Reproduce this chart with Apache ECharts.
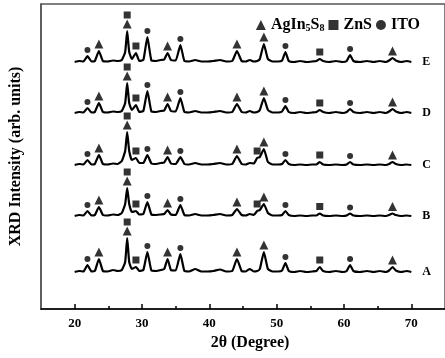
<!DOCTYPE html>
<html>
<head>
<meta charset="utf-8">
<script src="https://cdn.jsdelivr.net/npm/echarts@6/dist/echarts.min.js"></script>
<style>
  html, body { margin: 0; padding: 0; background: #fff; }
  #main { width: 445px; height: 358px; }
</style>
</head>
<body>
<div id="main"></div>
<script>
// 2theta grid shared by all patterns
const twoTheta = [
  20, 20.7, 21.3, 21.9, 22.5, 23.0, 23.6, 24.2, 24.9, 25.7, 26.4, 27.0, 27.5, 27.8, 28.1,
  28.5, 29.1, 29.6, 30.2, 30.8, 31.4, 32.1, 32.8, 33.3, 33.8, 34.3, 35.0, 35.7, 36.3, 37.0,
  37.9, 38.8, 39.7, 40.6, 41.6, 42.5, 43.4, 44.1, 44.8, 45.4, 46.0, 46.6, 47.1, 47.5, 48.1,
  48.7, 49.4, 50.2, 50.8, 51.3, 51.8, 52.6, 53.5, 54.4, 55.3, 55.9, 56.4, 56.9, 57.8, 58.8,
  59.8, 60.4, 60.9, 61.4, 62.4, 63.4, 64.4, 65.3, 66.2, 66.7, 67.2, 67.7, 68.5, 69.3, 70
];

const intensityA = [
  0, 1, 0.5, 7, 0.5, 1, 13, 1, 0.5, 2, 1, 2, 10, 34, 10,
  3, 5, 1, 2, 20, 1.5, 1, 2, 3, 13, 2, 1.5, 18, 1, 0.5,
  3, 0.5, 0.5, 1, 2.5, 0.5, 1, 13, 1, 0.5, 3, 0.5, 1, 3, 20,
  3, 0.5, 0.5, 1.5, 9, 1, 0, 1, 0, 0.5, 1, 5, 1, 0, 1,
  0, 1, 7, 1, 0, 1, 0, 1, 0, 1.5, 5, 1.5, 0, 1, 0
];
const intensityB = [
  0, 1, 0.5, 5, 0.5, 1, 9, 1, 0.5, 1.5, 1, 3, 12, 28, 12,
  4, 5, 1.5, 2, 14, 1.5, 1, 1.5, 2, 6, 1.5, 1, 11, 1, 0.5,
  2, 0.5, 0.5, 1, 2, 0.5, 1, 7, 1, 0.5, 2, 1, 5, 6, 12,
  3, 0.5, 0.5, 1, 5, 1, 0, 0.5, 0, 0.5, 0.5, 2.5, 0.5, 0, 0.5,
  0, 0.5, 2.5, 0.5, 0, 0.5, 0, 0.5, 0, 1, 2.5, 1, 0, 0.5, 0
];
const intensityC = [
  0, 1, 0.5, 5, 0.5, 1, 10, 1, 0.5, 1.5, 1, 4, 14, 33, 14,
  5, 7, 2, 2, 10, 1.5, 1, 2, 2.5, 8, 1.5, 1, 8, 1, 0.5,
  2, 0.5, 0.5, 1, 2, 0.5, 1, 9, 1, 0.5, 2, 1.5, 7, 8, 16,
  3, 0.5, 0.5, 1, 5, 1, 0, 0.5, 0, 0.5, 0.5, 3, 0.5, 0, 0.5,
  0, 0.5, 3, 0.5, 0, 0.5, 0, 0.5, 0, 1, 3, 1, 0, 0.5, 0
];
const intensityD = [
  0, 1, 0.5, 5, 0.5, 1, 10, 1, 0.5, 1.5, 1, 2, 10, 30, 10,
  3, 8, 1, 2, 22, 1.5, 1, 2, 2.5, 9, 2, 1.5, 15, 1, 0.5,
  2, 0.5, 0.5, 1, 2, 0.5, 1, 9, 1, 0.5, 2, 0.5, 1, 3, 15,
  3, 0.5, 0.5, 1.5, 7, 1, 0, 1, 0, 0.5, 1, 3, 1, 0, 1,
  0, 1, 4, 1, 0, 1, 0, 1, 0, 1.5, 4, 1.5, 0, 1, 0
];
const intensityE = [
  0, 1, 0.5, 6, 0.5, 1, 11, 1, 0.5, 1.5, 1, 2, 10, 31, 10,
  3, 9, 1, 2, 25, 1.5, 1, 2, 2.5, 9, 2, 1.5, 17, 1, 0.5,
  2, 0.5, 0.5, 1, 2, 0.5, 1, 11, 1, 0.5, 2, 0.5, 1, 3, 18,
  3, 0.5, 0.5, 1.5, 10, 1, 0, 1, 0, 0.5, 1, 3, 1, 0, 1,
  0, 1, 7, 1, 0, 1, 0, 1, 0, 1.5, 4, 1.5, 0, 1, 0
];

const traceNames = ['A', 'B', 'C', 'D', 'E'];
const traceData = [intensityA, intensityB, intensityC, intensityD, intensityE];
const traceOffsets = [37, 93, 144, 196, 247];

// phase peak assignments
const triPeaks = [23.6, 27.8, 33.8, 44.1, 48.1, 67.2];
const sqPeaks = [27.8, 29.1, 56.4];
const sqPeaksExtra = { B: [47.1], C: [47.1] };
const dotPeaks = [21.9, 30.8, 35.7, 51.3, 60.9];

const phaseNames = ['AgIn5S8', 'ZnS', 'ITO'];
const xTicks = [20, 30, 40, 50, 60, 70];
const xMinorTicks = [25, 35, 45, 55, 65];

const serif = 'Liberation Serif';

function peakY(k, x) {
  return traceData[k][twoTheta.indexOf(x)] + traceOffsets[k];
}

const lineSeries = traceNames.map((name, k) => ({
  name,
  type: 'line',
  data: twoTheta.map((t, i) => [t, traceData[k][i] + traceOffsets[k]]),
  smooth: 0.15,
  showSymbol: false,
  lineStyle: { color: '#000', width: 2.2 },
  endLabel: {
    show: true,
    formatter: '{a}',
    distance: 11,
    color: '#000',
    fontFamily: serif,
    fontWeight: 'bold',
    fontSize: 12
  },
  z: 2
}));

const triData = [], sqData = [], dotData = [];
traceNames.forEach((name, k) => {
  triPeaks.forEach(x => triData.push({ value: [x, peakY(k, x)], symbolOffset: [0, -7] }));
  sqPeaks.concat(sqPeaksExtra[name] || []).forEach(x => {
    const stacked = triPeaks.includes(x);
    sqData.push({ value: [x, peakY(k, x)], symbolOffset: [0, stacked ? -16 : -7] });
  });
  dotPeaks.forEach(x => dotData.push({ value: [x, peakY(k, x)], symbolOffset: [0, -6] }));
});

const chart = echarts.init(document.getElementById('main'));
chart.setOption({
  animation: false,
  grid: {
    left: 40, right: -3, top: 4, bottom: 49,
    show: true, borderColor: '#555', borderWidth: 1.5
  },
  legend: {
    top: 12,
    right: 20,
    itemWidth: 10,
    itemHeight: 10,
    itemGap: 4,
    data: [
      { name: phaseNames[0], icon: 'triangle' },
      { name: phaseNames[1], icon: 'rect' },
      { name: phaseNames[2], icon: 'circle' }
    ],
    formatter: n => n === 'AgIn5S8' ? 'AgIn{s|5}S{s|8}' : n,
    textStyle: {
      fontFamily: serif, fontWeight: 'bold', fontSize: 16, color: '#000',
      padding: [0, 0, 0, 0],
      rich: {
        s: { fontFamily: serif, fontWeight: 'bold', fontSize: 10, color: '#000', verticalAlign: 'bottom', padding: [6, 0, 0, 0] }
      }
    }
  },
  xAxis: [
    {
      type: 'value', min: 15, max: 75,
      name: '2θ (Degree)', nameLocation: 'middle', nameGap: 24,
      nameTextStyle: { fontFamily: serif, fontWeight: 'bold', fontSize: 16, color: '#000', padding: [0, 0, 0, 14] },
      axisLine: { lineStyle: { color: '#000', width: 1.5 } },
      axisTick: { inside: true, length: 5, customValues: xTicks, lineStyle: { color: '#000', width: 1.5 } },
      axisLabel: { customValues: xTicks, margin: 8, fontFamily: serif, fontWeight: 'bold', fontSize: 13, color: '#000' },
      splitLine: { show: false }
    },
    {
      type: 'value', min: 15, max: 75, position: 'bottom',
      axisLine: { show: false },
      axisTick: { inside: true, length: 3, customValues: xMinorTicks, lineStyle: { color: '#000', width: 1.5 } },
      axisLabel: { show: false },
      splitLine: { show: false }
    }
  ],
  yAxis: {
    type: 'value', min: 0, max: 305,
    name: 'XRD Intensity (arb. units)', nameLocation: 'middle', nameGap: 17,
    nameTextStyle: { fontFamily: serif, fontWeight: 'bold', fontSize: 16, color: '#000' },
    axisLine: { show: true, lineStyle: { color: '#555', width: 1.5 } },
    axisTick: { show: false },
    axisLabel: { show: false },
    splitLine: { show: false }
  },
  series: lineSeries.concat([
    { name: phaseNames[0], type: 'scatter', symbol: 'triangle', symbolSize: 9, data: triData, itemStyle: { color: '#000' }, z: 3 },
    { name: phaseNames[1], type: 'scatter', symbol: 'rect', symbolSize: 7, data: sqData, itemStyle: { color: '#000' }, z: 3 },
    { name: phaseNames[2], type: 'scatter', symbol: 'circle', symbolSize: 6, data: dotData, itemStyle: { color: '#000' }, z: 3 }
  ])
});
</script>
</body>
</html>
